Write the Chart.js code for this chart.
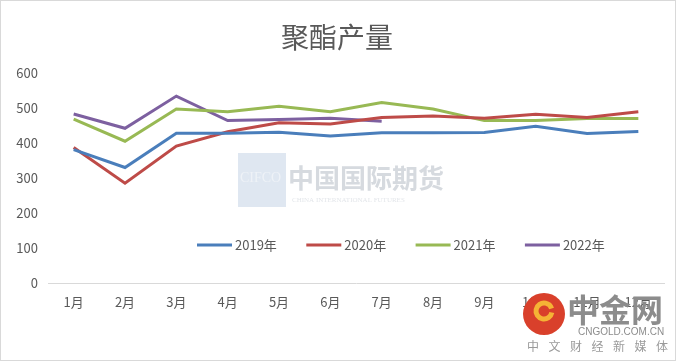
<!DOCTYPE html>
<html>
<head>
<meta charset="utf-8">
<script src="https://cdn.jsdelivr.net/npm/chart.js@4/dist/chart.umd.min.js"></script>
<style>
html,body{margin:0;padding:0;background:#fff;}
#wrap{position:relative;width:681px;height:363px;}
</style>
</head>
<body>
<div id="wrap"><canvas id="c" width="681" height="363"></canvas></div>
<script>
const title = '聚酯产量';
const months = ['1月','2月','3月','4月','5月','6月','7月','8月','9月','10月','11月','12月'];
const seriesNames = ['2019年','2020年','2021年','2022年'];
const v2019 = [381, 330, 428, 428, 431, 420, 429, 429, 430, 448, 427, 433];
const v2020 = [387, 285, 391, 432, 458, 454, 473, 477, 471, 482, 473, 489];
const v2021 = [468, 405, 497, 489, 505, 489, 516, 497, 464, 464, 470, 470];
const v2022 = [483, 442, 534, 464, 467, 471, 462];
const yTicks = [0, 100, 200, 300, 400, 500, 600];
const colors = ['#4a7ebb', '#be4b48', '#98b954', '#7d60a0'];

const FONT = '"Noto Sans CJK SC", "Open Sans", sans-serif';
const TXT = '#595959';

const decor = {
  id: 'decor',
  beforeDatasetsDraw(chart) {
    const ctx = chart.ctx;
    ctx.save();
    // CIFCO watermark
    ctx.fillStyle = '#dfe7f1';
    ctx.fillRect(238, 153, 48, 54);
    ctx.fillStyle = '#eef2f7';
    ctx.font = '14px "Liberation Serif", serif';
    ctx.textBaseline = 'middle';
    ctx.fillText('CIFCO', 240, 178);
    ctx.fillStyle = '#d6dadf';
    ctx.font = 'bold 26px ' + FONT;
    ctx.textAlign = 'left';
    ctx.fillText('中国国际期货', 288, 178);
    ctx.font = '7px "Liberation Serif", serif';
    ctx.fillStyle = '#e3e6ea';
    ctx.fillText('CHINA INTERNATIONAL FUTURES', 292, 200);
    ctx.restore();
  },
  afterDraw(chart) {
    const ctx = chart.ctx;
    ctx.save();
    // border
    ctx.strokeStyle = '#d9d9d9';
    ctx.lineWidth = 1;
    ctx.strokeRect(0.5, 0.5, 675, 360);
    // title
    ctx.fillStyle = TXT;
    ctx.font = '28px ' + FONT;
    ctx.textAlign = 'center';
    ctx.textBaseline = 'middle';
    ctx.fillText(title, 337, 37);
    // legend
    const ds = chart.data.datasets;
    ctx.font = '13px ' + FONT;
    ctx.textAlign = 'left';
    for (let i = 0; i < ds.length; i++) {
      const x = 197 + i * 109.3;
      const y = 245;
      ctx.strokeStyle = ds[i].borderColor;
      ctx.lineWidth = 3;
      ctx.beginPath();
      ctx.moveTo(x, y);
      ctx.lineTo(x + 35, y);
      ctx.stroke();
      ctx.fillStyle = TXT;
      ctx.fillText(ds[i].label, x + 38, y);
    }
    // cngold logo
    ctx.fillStyle = '#d9402b';
    ctx.beginPath();
    ctx.arc(544, 314, 21, 0, Math.PI * 2);
    ctx.fill();
    ctx.strokeStyle = '#f5b335';
    ctx.lineWidth = 5;
    ctx.beginPath();
    ctx.arc(544, 311, 8, 0.2, Math.PI * 1.9);
    ctx.stroke();
    ctx.fillStyle = '#8c8c8c';
    ctx.font = 'bold 32px ' + FONT;
    ctx.textAlign = 'left';
    ctx.fillText('中金网', 567, 310);
    ctx.font = '10px "Liberation Sans", sans-serif';
    ctx.fillStyle = '#8c8c8c';
    ctx.fillText('CNGOLD.COM.CN', 578, 332);
    ctx.font = '12px ' + FONT;
    ctx.fillStyle = '#9a9a9a';
    const sub = ['中','文','财','经','新','媒','体'];
    for (let i = 0; i < sub.length; i++) ctx.fillText(sub[i], 527 + i * 21.5, 346);
    ctx.restore();
  }
};

const mk = (i, data) => ({
  label: seriesNames[i], data, borderColor: colors[i], backgroundColor: colors[i],
  borderWidth: 3, pointRadius: 0, tension: 0, fill: false
});

new Chart(document.getElementById('c'), {
  type: 'line',
  data: {
    labels: months,
    datasets: [mk(0, v2019), mk(1, v2020), mk(2, v2021), mk(3, v2022)]
  },
  options: {
    responsive: false,
    animation: false,
    devicePixelRatio: 1,
    layout: { padding: { top: 73, right: 17, left: 0, bottom: 0 } },
    plugins: { legend: { display: false }, title: { display: false }, tooltip: { enabled: false } },
    scales: {
      x: {
        offset: true,
        grid: { display: false, drawTicks: false },
        border: { display: true, color: '#d9d9d9', width: 1 },
        ticks: { color: TXT, font: { family: FONT, size: 13 }, padding: 11, maxRotation: 0, autoSkip: false },
        afterFit(s) { s.height = 80; }
      },
      y: {
        min: 0, max: 600,
        afterBuildTicks(s) { s.ticks = yTicks.map(v => ({ value: v })); },
        grid: { display: false, drawTicks: false },
        border: { display: false },
        ticks: { color: TXT, font: { family: FONT, size: 13 }, padding: 10 },
        afterFit(s) { s.width = 48; }
      }
    }
  },
  plugins: [decor]
});
</script>
</body>
</html>
